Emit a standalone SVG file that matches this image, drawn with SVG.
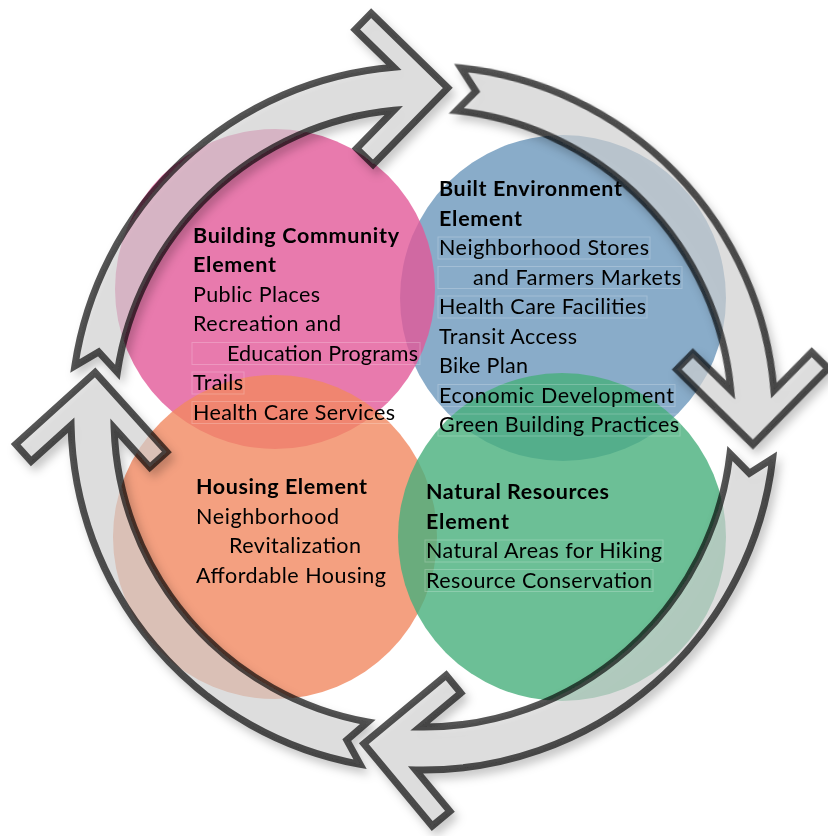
<svg xmlns="http://www.w3.org/2000/svg" width="828" height="836" viewBox="0 0 828 836">
  <style>
    .disc { opacity: 0.8; }
    .arrow { fill: #d8d8d8; fill-opacity: 0.62; stroke: #000; stroke-opacity: 0.66; stroke-width: 7; stroke-linejoin: miter; stroke-miterlimit: 6; }
    .h { font-family: Lato, "Liberation Sans", sans-serif; font-weight: bold; font-size: 21.5px; fill: #000; }
    .t { font-family: Lato, "Liberation Sans", sans-serif; font-size: 21.5px; fill: #000; }
    .box { fill: none; stroke: #fff; stroke-opacity: 0.22; stroke-width: 1; }
  </style>
  <defs>
    <filter id="ringShadow" x="-10%" y="-10%" width="125%" height="125%">
      <feDropShadow dx="4" dy="6" stdDeviation="5" flood-color="#000" flood-opacity="0.3"/>
    </filter>
  </defs>
  <rect width="828" height="836" fill="#fff"/>

  <!-- element discs -->
  <g id="node-built-environment"><circle class="disc" cx="563" cy="298" r="163" fill="#6b97bb"/></g>
  <g id="node-building-community"><circle class="disc" cx="275" cy="289" r="160" fill="#e25998"/></g>
  <g id="node-housing"><circle class="disc" cx="275" cy="537" r="162" fill="#f18860"/></g>
  <g id="node-natural-resources"><circle class="disc" cx="562" cy="537" r="164" fill="#47af7c"/></g>

  <!-- cycle of four curved arrows, built around the centre (423,418) with the tip on the local +x axis -->
  <g id="connectors" filter="url(#ringShadow)">
    <path class="arrow" transform="translate(423 418) rotate(-85.7)" d="M25.8 -351.1 A352 352 0 0 1 347.6 -55.6 L382.2 -96.8 L399.8 -82 L331 0 L249 -68.8 L263.8 -86.4 L304.6 -52.2 A309 309 0 0 0 22.6 -308.2 L41.5 -328.4 Z"/>
    <path class="arrow" transform="translate(423 418) rotate(4.6)" d="M9.8 -351.9 A352 352 0 0 1 347.6 -55.6 L382.2 -96.8 L399.8 -82 L331 0 L249 -68.8 L263.8 -86.4 L304.6 -52.2 A309 309 0 0 0 8.6 -308.9 L26.5 -329.9 Z"/>
    <path class="arrow" transform="translate(423 418) rotate(100.3)" d="M-22.7 -351.3 A352 352 0 0 1 347.6 -55.6 L382.2 -96.8 L399.8 -82 L331 0 L249 -68.8 L263.8 -86.4 L304.6 -52.2 A309 309 0 0 0 -19.9 -308.4 L-4 -331 Z"/>
    <path class="arrow" transform="translate(423 418) rotate(187.9)" d="M14.7 -351.7 A352 352 0 0 1 347.6 -55.6 L382.2 -96.8 L399.8 -82 L331 0 L249 -68.8 L263.8 -86.4 L304.6 -52.2 A309 309 0 0 0 12.9 -308.7 L31.2 -329.5 Z"/>
  </g>

  <!-- labels -->
  <g id="label-building-community">
    <rect class="box" x="192" y="342.5" width="228" height="22"/>
    <rect class="box" x="192" y="372" width="52" height="22"/>
    <rect class="box" x="192" y="401.5" width="204" height="22"/>
    <text class="h" x="193" y="242.5" textLength="206">Building Community</text>
    <text class="h" x="193" y="272" textLength="83">Element</text>
    <text class="t" x="193" y="301.5" textLength="127">Public Places</text>
    <text class="t" x="193" y="331" textLength="148">Recreation and</text>
    <text class="t" x="227" y="360.5" textLength="191">Education Programs</text>
    <text class="t" x="193" y="390" textLength="50">Trails</text>
    <text class="t" x="193" y="419.5" textLength="202">Health Care Services</text>
  </g>
  <g id="label-built-environment">
    <rect class="box" x="438" y="237" width="212" height="22"/>
    <rect class="box" x="438" y="266.5" width="244" height="22"/>
    <rect class="box" x="438" y="296" width="209" height="22"/>
    <rect class="box" x="438" y="384.5" width="237" height="22"/>
    <rect class="box" x="438" y="414" width="242" height="22"/>
    <text class="h" x="439" y="196" textLength="183">Built Environment</text>
    <text class="h" x="439" y="225.5" textLength="83">Element</text>
    <text class="t" x="439" y="255" textLength="210">Neighborhood Stores</text>
    <text class="t" x="473" y="284.5" textLength="208">and Farmers Markets</text>
    <text class="t" x="439" y="314" textLength="207">Health Care Facilities</text>
    <text class="t" x="439" y="343.5" textLength="138">Transit Access</text>
    <text class="t" x="439" y="373" textLength="89">Bike Plan</text>
    <text class="t" x="439" y="402.5" textLength="235">Economic Development</text>
    <text class="t" x="439" y="432" textLength="240">Green Building Practices</text>
  </g>
  <g id="label-housing">
    <text class="h" x="196" y="494" textLength="171">Housing Element</text>
    <text class="t" x="196" y="523.5" textLength="143">Neighborhood</text>
    <text class="t" x="229" y="553" textLength="132">Revitalization</text>
    <text class="t" x="196" y="582.5" textLength="190">Affordable Housing</text>
  </g>
  <g id="label-natural-resources">
    <rect class="box" x="425" y="540" width="238" height="22"/>
    <rect class="box" x="425" y="569.5" width="228" height="22"/>
    <text class="h" x="426" y="499" textLength="183">Natural Resources</text>
    <text class="h" x="426" y="528.5" textLength="83">Element</text>
    <text class="t" x="426" y="558" textLength="236">Natural Areas for Hiking</text>
    <text class="t" x="426" y="587.5" textLength="226">Resource Conservation</text>
  </g>
</svg>
